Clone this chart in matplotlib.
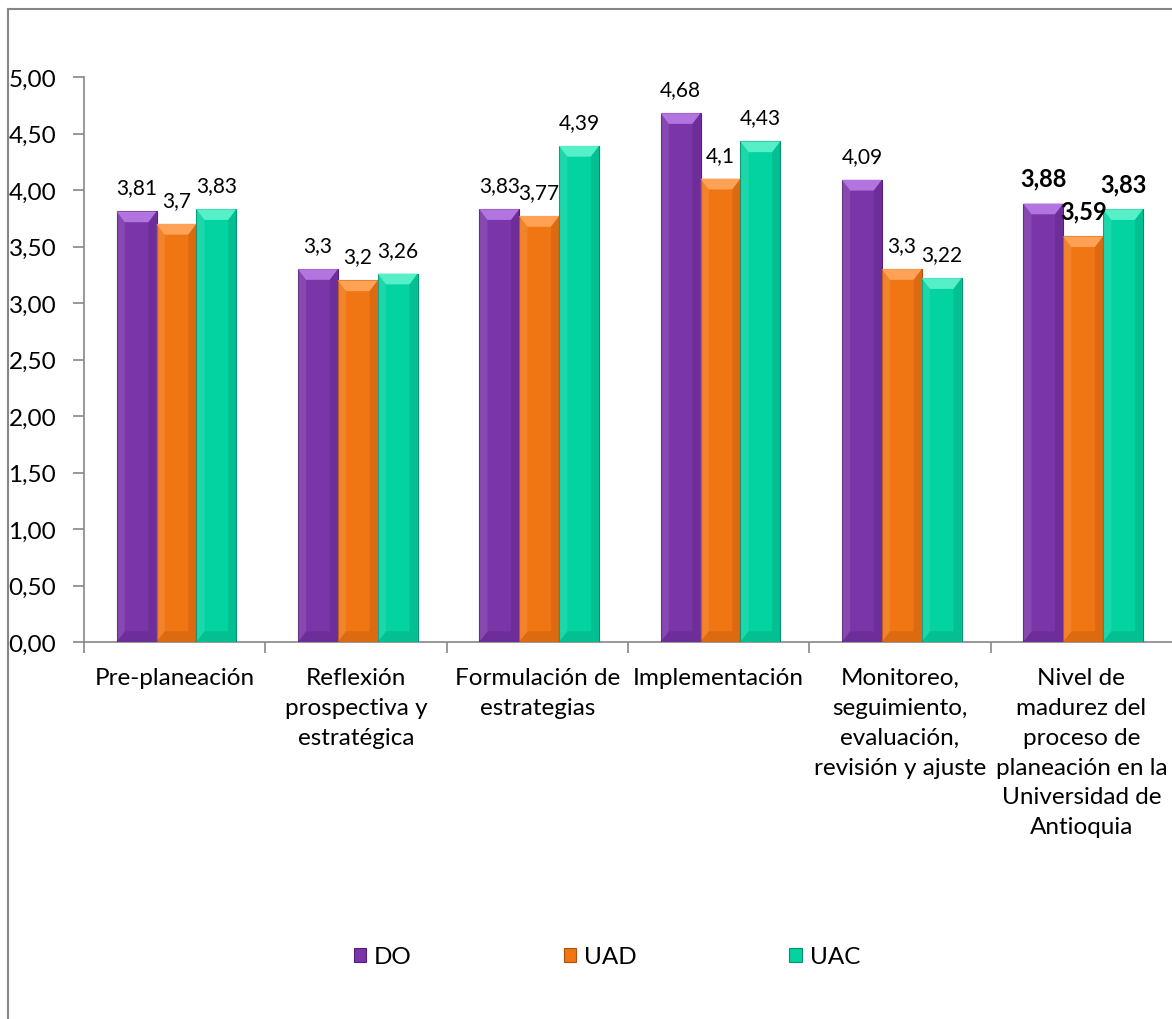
import numpy as np
import matplotlib
matplotlib.use("Agg")
import matplotlib.pyplot as plt
from matplotlib.patches import Polygon
from matplotlib.lines import Line2D
from matplotlib.ticker import FuncFormatter

plt.rcParams['font.family'] = ['Lato', 'DejaVu Sans']

# datos
categorias = ["Pre-planeación",
              "Reflexión\nprospectiva y\nestratégica",
              "Formulación de\nestrategias",
              "Implementación",
              "Monitoreo,\nseguimiento,\nevaluación,\nrevisión y ajuste",
              "Nivel de\nmadurez del\nproceso de\nplaneación en la\nUniversidad de\nAntioquia"]
series = ["DO", "UAD", "UAC"]
do_vals = [3.81, 3.3, 3.83, 4.68, 4.09, 3.88]
uad_vals = [3.7, 3.2, 3.77, 4.1, 3.3, 3.59]
uac_vals = [3.83, 3.26, 4.39, 4.43, 3.22, 3.83]
yticks = [0, 0.5, 1, 1.5, 2, 2.5, 3, 3.5, 4, 4.5, 5]

colores = ["#7A35A8", "#F07614", "#03D3A1"]
claros = ["#B274DE", "#FFA255", "#55F0C8"]
oscuros = ["#52207A", "#B0500A", "#03926F"]

fig = plt.figure(figsize=(11.72, 10.20), dpi=100)
ax = fig.add_axes([84/1172, 1 - 643/1020, 1088/1172, (643 - 78)/1020])

x = np.arange(len(categorias))
ancho = 0.22
offsets = [-ancho, 0, ancho]
todas = [do_vals, uad_vals, uac_vals]

dx = 0.045
dy = 0.095
for serie, vals, off, c, cl, co in zip(series, todas, offsets, colores, claros, oscuros):
    barras = ax.bar(x + off + 0.01, vals, ancho, color=c, edgecolor=co, linewidth=0.8,
                    label=serie, zorder=3)
    for b in barras:
        bx, bw, bh = b.get_x(), b.get_width(), b.get_height()
        # efecto bisel
        ax.add_patch(Polygon([(bx, bh), (bx + bw, bh), (bx + bw - dx, bh - dy), (bx + dx, bh - dy)],
                             closed=True, facecolor=cl, edgecolor='none', zorder=4))
        ax.add_patch(Polygon([(bx + bw, 0), (bx + bw, bh), (bx + bw - dx, bh - dy), (bx + bw - dx, dy)],
                             closed=True, facecolor=co, edgecolor='none', alpha=0.3, zorder=4))
        ax.add_patch(Polygon([(bx, 0), (bx + bw, 0), (bx + bw - dx, dy), (bx + dx, dy)],
                             closed=True, facecolor=co, edgecolor='none', alpha=0.3, zorder=4))
        ax.add_patch(Polygon([(bx, 0), (bx, bh), (bx + dx, bh - dy), (bx + dx, dy)],
                             closed=True, facecolor='white', edgecolor='none', alpha=0.1, zorder=4))

    for i, (xi, v) in enumerate(zip(x + off + 0.01, vals)):
        txt = f"{v:g}".replace('.', ',')
        if i == len(vals) - 1:
            ax.annotate(txt, (xi, v), xytext=(0, 10), textcoords='offset points',
                        ha='center', va='bottom', fontsize=17, fontweight='bold', zorder=5)
        else:
            ax.annotate(txt, (xi, v), xytext=(0, 10), textcoords='offset points',
                        ha='center', va='bottom', fontsize=15, zorder=5)

ax.set_xlim(-0.5, len(categorias) - 0.5)
ax.set_ylim(0, 5)
ax.set_yticks(yticks)
ax.yaxis.set_major_formatter(FuncFormatter(lambda v, p: f"{v:.2f}".replace('.', ',')))

ax.set_xticks(np.arange(len(categorias)) - 0.5)
ax.set_xticklabels([])
ax.set_xticks(x, minor=True)
ax.set_xticklabels(categorias, minor=True, fontsize=17.5, linespacing=1.52)
ax.tick_params(axis='x', which='minor', length=0, pad=18)
ax.tick_params(axis='x', which='major', length=8, color='#868686', width=1.2, direction='out')
ax.tick_params(axis='y', length=8, color='#868686', width=1.2, labelsize=17.5, pad=12)

for s in ['top', 'right']:
    ax.spines[s].set_visible(False)
for s in ['left', 'bottom']:
    ax.spines[s].set_color('#868686')
    ax.spines[s].set_linewidth(1.2)

leg = fig.legend(loc='center', bbox_to_anchor=(607/1172, 1 - 958/1020), ncol=3,
                 frameon=False, fontsize=17.5, handlelength=0.5, handleheight=0.5,
                 handletextpad=0.33, columnspacing=6.27)

# borde del gráfico
fig.add_artist(Line2D([8/1172, 8/1172], [0, 1 - 10/1020], color='#868686', lw=1.5))
fig.add_artist(Line2D([8/1172, 1], [1 - 10/1020, 1 - 10/1020], color='#868686', lw=1.5))

fig.savefig("out.png", dpi=100)
